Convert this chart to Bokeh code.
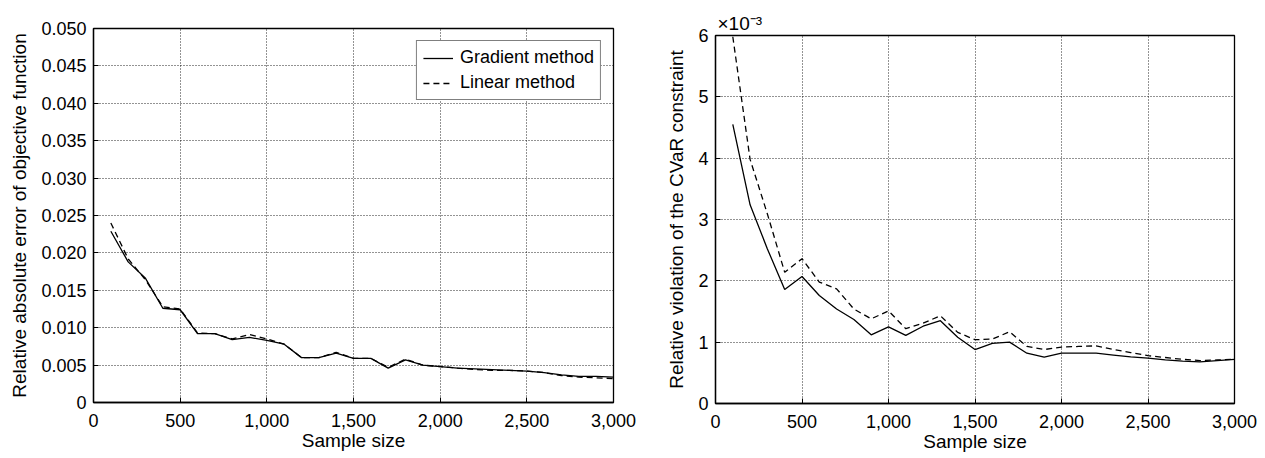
from bokeh.plotting import figure
from bokeh.layouts import row, column
from bokeh.models import Range1d, FixedTicker, NumeralTickFormatter, Title, Spacer
from bokeh.embed import file_html
from bokeh.resources import INLINE

# ---------------- data ----------------
sample_size = [100, 200, 300, 400, 500, 600, 700, 800, 900, 1000,
               1100, 1200, 1300, 1400, 1500, 1600, 1700, 1800, 1900, 2000,
               2100, 2200, 2300, 2400, 2500, 2600, 2700, 2800, 2900, 3000]

# left panel: relative absolute error of objective function
obj_gradient = [0.0229, 0.0188, 0.0166, 0.0126, 0.0124, 0.0092, 0.0092, 0.0084, 0.0087, 0.0083,
                0.0078, 0.0060, 0.0060, 0.0066, 0.0059, 0.0059, 0.0046, 0.0057, 0.0050, 0.0048,
                0.0046, 0.0045, 0.0044, 0.0043, 0.0042, 0.0040, 0.0037, 0.0035, 0.0035, 0.0034]
obj_linear = [0.0240, 0.0192, 0.0164, 0.0128, 0.0125, 0.0093, 0.0092, 0.0085, 0.0091, 0.0085,
              0.0078, 0.0060, 0.0060, 0.0067, 0.0059, 0.0059, 0.0047, 0.0058, 0.0050, 0.0048,
              0.0046, 0.0044, 0.0043, 0.0043, 0.0042, 0.0040, 0.0036, 0.0034, 0.0033, 0.0032]

# right panel: relative violation of the CVaR constraint (in units of 1e-3)
cvar_gradient = [4.55, 3.24, 2.52, 1.86, 2.07, 1.76, 1.54, 1.37, 1.12, 1.25,
                 1.11, 1.26, 1.35, 1.08, 0.88, 0.98, 1.00, 0.82, 0.755, 0.82,
                 0.82, 0.82, 0.79, 0.76, 0.74, 0.71, 0.69, 0.68, 0.70, 0.72]
cvar_linear = [5.98, 3.98, 3.09, 2.14, 2.36, 1.98, 1.87, 1.54, 1.38, 1.51,
               1.22, 1.31, 1.43, 1.16, 1.04, 1.05, 1.17, 0.93, 0.88, 0.92,
               0.93, 0.94, 0.88, 0.83, 0.78, 0.75, 0.72, 0.70, 0.71, 0.72]

x_ticks = [0, 500, 1000, 1500, 2000, 2500, 3000]
left_y_ticks = [0, 0.005, 0.010, 0.015, 0.020, 0.025, 0.030, 0.035, 0.040, 0.045, 0.050]
left_y_labels = ["0", "0.005", "0.010", "0.015", "0.020", "0.025", "0.030", "0.035", "0.040", "0.045", "0.050"]
right_y_ticks = [0, 1, 2, 3, 4, 5, 6]
right_y_labels = ["0", "1", "2", "3", "4", "5", "6"]

FONT = "Liberation Sans"
TICK_FS = "18px"
LABEL_FS = "19px"


def style_axis(ax, ticks, overrides=None, fmt=None, label=None):
    ax.ticker = FixedTicker(ticks=ticks)
    if overrides is not None:
        ax.major_label_overrides = overrides
    if fmt is not None:
        ax.formatter = fmt
    ax.major_tick_in = 5
    ax.major_tick_out = 0
    ax.minor_tick_line_color = None
    ax.major_tick_line_color = "black"
    ax.major_tick_line_width = 1
    ax.axis_line_color = "black"
    ax.axis_line_width = 1.3
    ax.major_label_text_font = FONT
    ax.major_label_text_font_size = TICK_FS
    ax.major_label_text_color = "black"
    ax.major_label_standoff = 7
    ax.axis_label = label
    ax.axis_label_text_font = FONT
    ax.axis_label_text_font_size = LABEL_FS
    ax.axis_label_text_font_style = "normal"
    ax.axis_label_text_color = "black"


def make_fig(width, height, bl, bt, br, bb, y_end, y_ticks, y_labels, ylabel):
    p = figure(width=width, height=height,
               min_border_left=bl, min_border_top=bt,
               min_border_right=br, min_border_bottom=bb,
               x_range=Range1d(0, 3000), y_range=Range1d(0, y_end),
               output_backend="svg", toolbar_location=None)
    p.background_fill_color = "white"
    p.border_fill_color = "white"
    p.outline_line_color = "black"
    p.outline_line_width = 1.3
    style_axis(p.xaxis[0], x_ticks, fmt=NumeralTickFormatter(format="0,0"), label="Sample size")
    p.xaxis[0].major_label_standoff = 11
    p.xaxis[0].axis_label_standoff = 0
    ov = {t: l for t, l in zip(y_ticks, y_labels)}
    style_axis(p.yaxis[0], y_ticks, overrides=ov, label=ylabel)
    p.yaxis[0].axis_label_standoff = 8
    for g in (p.xgrid[0], p.ygrid[0]):
        g.grid_line_color = "black"
        g.grid_line_alpha = 0.85
        g.grid_line_dash = "1 2"
        g.grid_line_width = 1
    return p


# left: frame x 93..613, y 28..402
p1 = make_fig(645, 456, 93, 28, 32, 54, 0.050, left_y_ticks, left_y_labels,
              "Relative absolute error of objective function")
p1.line(sample_size, obj_gradient, line_color="black", line_width=1.3, legend_label="Gradient method")
p1.line(sample_size, obj_linear, line_color="black", line_width=1.3, line_dash="6 4",
        legend_label="Linear method")
lg = p1.legend[0]
lg.location = "top_right"
lg.margin = 12
lg.padding = 6
lg.spacing = 4
lg.glyph_width = 30
lg.glyph_height = 20
lg.label_height = 20
lg.label_standoff = 7
lg.label_text_font = FONT
lg.label_text_font_size = "18px"
lg.label_text_color = "black"
lg.border_line_color = "black"
lg.border_line_width = 1
lg.background_fill_color = "white"
lg.background_fill_alpha = 1.0

# right: frame x 715..1234, y 35..403 (shifted down 7px by a spacer)
p2 = make_fig(617, 449, 70, 28, 28, 53, 6, right_y_ticks, right_y_labels,
              "Relative violation of the CVaR constraint")
p2.line(sample_size, cvar_gradient, line_color="black", line_width=1.3)
p2.line(sample_size, cvar_linear, line_color="black", line_width=1.3, line_dash="6 4")

scale_title = Title(text="×10⁻³", align="left", offset=2, standoff=4,
                    text_font=FONT, text_font_size="19px", text_font_style="normal",
                    text_color="black")
p2.add_layout(scale_title, "above")

layout = row(p1, column(Spacer(width=617, height=7), p2))
open("out.html", "w").write(file_html(layout, INLINE))
